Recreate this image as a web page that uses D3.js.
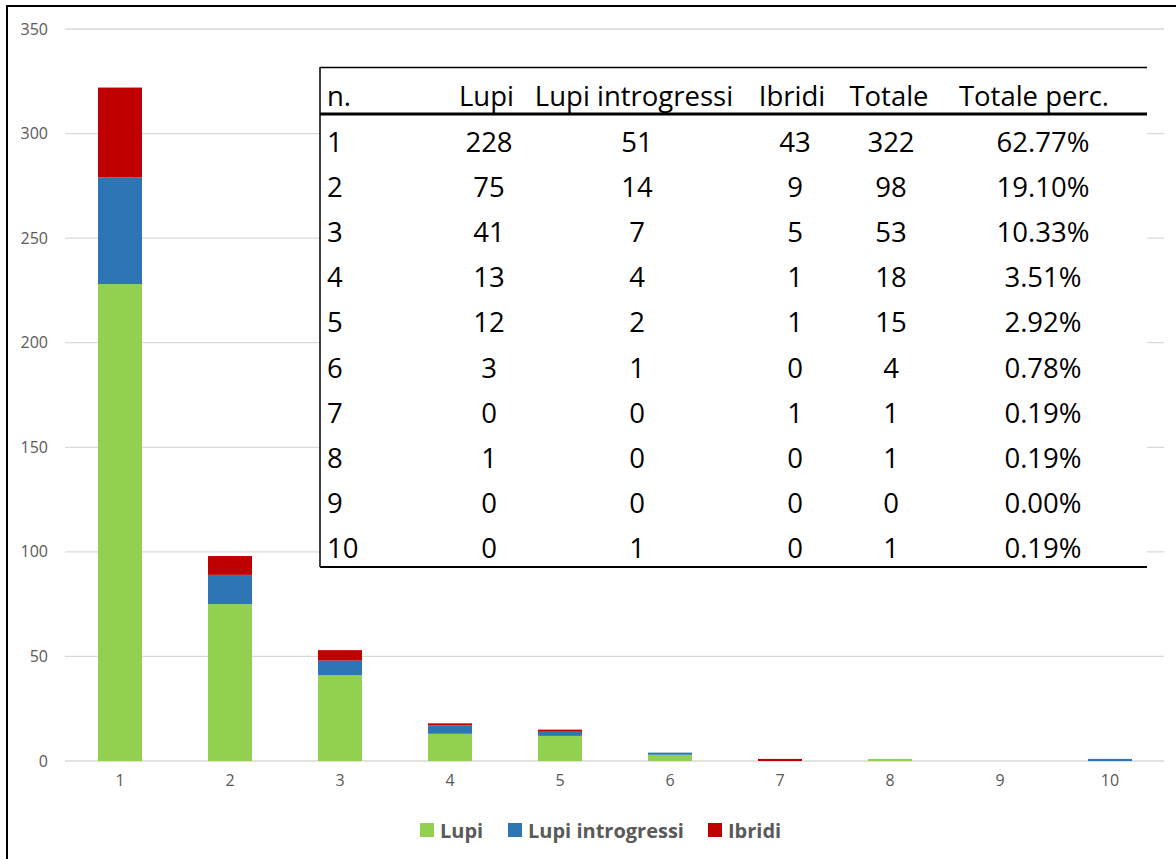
<!DOCTYPE html>
<html>
<head>
<meta charset="utf-8">
<script src="https://cdn.jsdelivr.net/npm/d3@7/dist/d3.min.js"></script>
<style>
  html, body { margin: 0; padding: 0; background: #fff; }
  svg { display: block; }
</style>
</head>
<body>
<svg id="chart" width="1176" height="859"></svg>
<script>
// Number of occurrences (1..10) and counts per group
const categories = [1, 2, 3, 4, 5, 6, 7, 8, 9, 10];
const lupi = [228, 75, 41, 13, 12, 3, 0, 1, 0, 0];
const lupiIntrogressi = [51, 14, 7, 4, 2, 1, 0, 0, 0, 1];
const ibridi = [43, 9, 5, 1, 1, 0, 1, 0, 0, 0];
const seriesNames = ["Lupi", "Lupi introgressi", "Ibridi"];
const seriesColors = ["#92d050", "#2e75b6", "#c00000"];
const yTicks = [0, 50, 100, 150, 200, 250, 300, 350];
const tableHeaders = ["n.", "Lupi", "Lupi introgressi", "Ibridi", "Totale", "Totale perc."];

const svg = d3.select("#chart");
const W = 1176, H = 859;
const FONT = "'Open Sans', 'Noto Sans', Lato, sans-serif";

svg.append("rect").attr("width", W).attr("height", H).attr("fill", "#fff");

// Outer frame
svg.append("rect")
  .attr("x", 7).attr("y", 6).attr("width", W + 20).attr("height", H + 20)
  .attr("fill", "none").attr("stroke", "#000").attr("stroke-width", 2);

const plot = { left: 65, right: 1164, top: 29, bottom: 761 };

const x = d3.scaleBand()
  .domain(categories)
  .range([plot.left, plot.left + 1100])
  .paddingInner(0.6)
  .paddingOuter(0.3);

const y = d3.scaleLinear().domain([0, 350]).range([plot.bottom, plot.top]);

// Gridlines
svg.append("g")
  .selectAll("line")
  .data(yTicks)
  .join("line")
  .attr("x1", plot.left).attr("x2", plot.right)
  .attr("y1", d => y(d)).attr("y2", d => y(d))
  .attr("stroke", "#d9d9d9").attr("stroke-width", 1.3);

// Y axis labels
const yAxis = d3.axisLeft(y).tickValues(yTicks).tickSize(0).tickPadding(0);
svg.append("g")
  .attr("transform", `translate(48,0)`)
  .call(yAxis)
  .call(g => g.select(".domain").remove())
  .call(g => g.selectAll("text")
    .attr("fill", "#595959").attr("font-family", FONT).attr("font-size", 16));

// X axis labels
const xAxis = d3.axisBottom(x).tickSize(0).tickPadding(0);
svg.append("g")
  .attr("transform", `translate(0,${plot.bottom + 14})`)
  .call(xAxis)
  .call(g => g.select(".domain").remove())
  .call(g => g.selectAll("text")
    .attr("fill", "#595959").attr("font-family", FONT).attr("font-size", 16));

// Stacked bars
const rows = categories.map((c, i) => ({
  n: c,
  "Lupi": lupi[i],
  "Lupi introgressi": lupiIntrogressi[i],
  "Ibridi": ibridi[i]
}));
const stacked = d3.stack().keys(seriesNames)(rows);

svg.append("g")
  .selectAll("g")
  .data(stacked)
  .join("g")
  .attr("fill", (d, i) => seriesColors[i])
  .selectAll("rect")
  .data(d => d)
  .join("rect")
  .attr("x", d => x(d.data.n))
  .attr("width", x.bandwidth())
  .attr("y", d => y(d[1]))
  .attr("height", d => y(d[0]) - y(d[1]));

// Legend
const legendItems = [
  { name: seriesNames[0], color: seriesColors[0], x: 420 },
  { name: seriesNames[1], color: seriesColors[1], x: 508 },
  { name: seriesNames[2], color: seriesColors[2], x: 708 }
];
const lg = svg.append("g").selectAll("g").data(legendItems).join("g")
  .attr("transform", d => `translate(${d.x},823)`);
lg.append("rect").attr("width", 14).attr("height", 14).attr("fill", d => d.color);
lg.append("text")
  .attr("x", 20).attr("y", 14.5)
  .attr("font-family", FONT).attr("font-size", 20).attr("font-weight", "bold")
  .attr("fill", "#595959")
  .text(d => d.name);

// Data table
const totale = categories.map((c, i) => lupi[i] + lupiIntrogressi[i] + ibridi[i]);
const grand = d3.sum(totale);
const perc = totale.map(t => (t / grand * 100).toFixed(2) + "%");

const tbl = { left: 320, right: 1147, top: 67, bottom: 567 };
const tg = svg.append("g");
tg.append("rect")
  .attr("x", tbl.left).attr("y", tbl.top)
  .attr("width", tbl.right - tbl.left).attr("height", tbl.bottom - tbl.top)
  .attr("fill", "#fff");
tg.append("line").attr("x1", tbl.left).attr("x2", tbl.right)
  .attr("y1", tbl.top + 0.5).attr("y2", tbl.top + 0.5)
  .attr("stroke", "#000").attr("stroke-width", 1.5);
tg.append("line").attr("x1", tbl.left).attr("x2", tbl.right)
  .attr("y1", 114).attr("y2", 114)
  .attr("stroke", "#000").attr("stroke-width", 3);
tg.append("line").attr("x1", tbl.left).attr("x2", tbl.right)
  .attr("y1", tbl.bottom).attr("y2", tbl.bottom)
  .attr("stroke", "#000").attr("stroke-width", 2);
tg.append("line").attr("x1", tbl.left).attr("x2", tbl.left)
  .attr("y1", tbl.top).attr("y2", tbl.bottom)
  .attr("stroke", "#000").attr("stroke-width", 1.5);

// header cells: [x, anchor]
const headerPos = [[327, "start"], [514, "end"], [634, "middle"], [792, "middle"], [889, "middle"], [1034, "middle"]];
tg.selectAll("text.h")
  .data(tableHeaders)
  .join("text")
  .attr("class", "h")
  .attr("x", (d, i) => headerPos[i][0])
  .attr("y", 106)
  .attr("text-anchor", (d, i) => headerPos[i][1])
  .attr("font-family", FONT).attr("font-size", 27.5)
  .attr("fill", "#000")
  .text(d => d);

const colPos = [[327, "start"], [489, "middle"], [637, "middle"], [795, "middle"], [891, "middle"], [1043, "middle"]];
const rowY = d3.scaleLinear().domain([0, 9]).range([152, 558]);
const cells = categories.map((c, i) => [String(c), lupi[i], lupiIntrogressi[i], ibridi[i], totale[i], perc[i]]);

tg.selectAll("g.row")
  .data(cells)
  .join("g")
  .attr("class", "row")
  .attr("transform", (d, i) => `translate(0,${rowY(i)})`)
  .selectAll("text")
  .data(d => d)
  .join("text")
  .attr("x", (d, j) => colPos[j][0])
  .attr("text-anchor", (d, j) => colPos[j][1])
  .attr("font-family", FONT).attr("font-size", 27.5)
  .attr("fill", "#000")
  .text(d => d);
</script>
</body>
</html>
